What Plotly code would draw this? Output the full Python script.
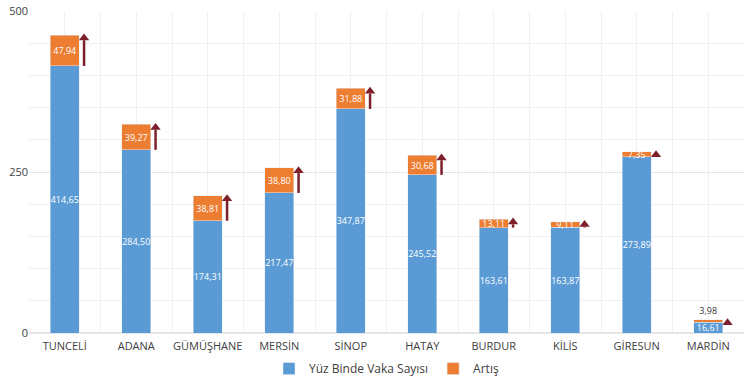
import plotly.graph_objects as go

categories = ["TUNCELİ", "ADANA", "GÜMÜŞHANE", "MERSİN", "SİNOP",
              "HATAY", "BURDUR", "KİLİS", "GİRESUN", "MARDİN"]
vaka = [414.65, 284.50, 174.31, 217.47, 347.87, 245.52, 163.61, 163.87, 273.89, 16.61]
artis = [47.94, 39.27, 38.81, 38.80, 31.88, 30.68, 13.11, 9.11, 7.35, 3.98]
y_ticks = [0, 250, 500]

BLUE = "#5B9BD5"
ORANGE = "#ED7D31"
ARROW = "#7E1F2C"
FONT = "Open Sans"
HEAD = 9  # arrow head length in data units
OFFSET = 0.27

def fmt(v):
    return f"{v:.2f}".replace(".", ",")

fig = go.Figure()
fig.add_trace(go.Bar(
    x=categories, y=vaka, name="Yüz Binde Vaka Sayısı",
    marker_color=BLUE, width=0.41,
    text=[fmt(v) for v in vaka], textposition="inside",
    insidetextanchor="middle", textangle=0,
    textfont=dict(color="white", size=9, family=FONT),
))
small = [a < 5 for a in artis]
fig.add_trace(go.Bar(
    x=categories, y=artis, name="Artış",
    marker_color=ORANGE, width=0.41,
    text=[fmt(v) for v in artis],
    textposition=["outside" if s else "inside" for s in small],
    insidetextanchor="middle", textangle=0, cliponaxis=False,
    textfont=dict(color=["#333333" if s else "white" for s in small], size=9, family=FONT),
))

# overlay axis for half-category vertical grid and arrows
n = len(categories)
lx, ly, hx, hy = [], [], [], []
for i, (v, a) in enumerate(zip(vaka, artis)):
    top = v + a
    if top - HEAD > v:
        lx += [i + OFFSET, i + OFFSET, None]
        ly += [v, top - HEAD + 1, None]
    hx.append(i + OFFSET)
    hy.append(top - HEAD / 2)

fig.add_trace(go.Scatter(x=lx, y=ly, xaxis="x2", mode="lines",
                         line=dict(color=ARROW, width=2.5), showlegend=False,
                         hoverinfo="skip"))
fig.add_trace(go.Scatter(x=hx, y=hy, xaxis="x2", mode="markers",
                         marker=dict(symbol="triangle-up", size=9, color=ARROW),
                         showlegend=False, hoverinfo="skip"))

fig.update_layout(
    width=750, height=380,
    margin=dict(l=29, r=6, t=11, b=47, autoexpand=False),
    barmode="stack", bargap=0.59,
    plot_bgcolor="white", paper_bgcolor="white",
    font=dict(family=FONT, size=11, color="#404040"),
    uniformtext=dict(minsize=9, mode="show"),
    legend=dict(orientation="h", x=0.5, xanchor="center", y=0.03, yanchor="middle",
                yref="container", font=dict(size=12, color="#404040"),
                itemwidth=30, traceorder="normal"),
    xaxis=dict(showgrid=False, tickfont=dict(size=11), ticks="", showline=False,
               zeroline=False, automargin=False, range=[-0.5, n - 0.5],
               ticklabelstandoff=5),
    xaxis2=dict(overlaying="x", range=[-0.5, n - 0.5], dtick=0.5,
                showgrid=True, gridcolor="#F0F0F0", gridwidth=1,
                showticklabels=False, ticks="", zeroline=False, showline=False),
    yaxis=dict(range=[0, 500], tickvals=y_ticks, ticktext=[str(t) for t in y_ticks],
               showgrid=True, gridcolor="#E6E6E6", zeroline=True, zerolinecolor="#E6E6E6",
               minor=dict(dtick=50, showgrid=True, gridcolor="#F0F0F0"),
               tickfont=dict(size=11), ticks="", automargin=False),
)

fig.write_html("out.html", config={"displayModeBar": False},
               post_script="document.body.style.margin='0';")
